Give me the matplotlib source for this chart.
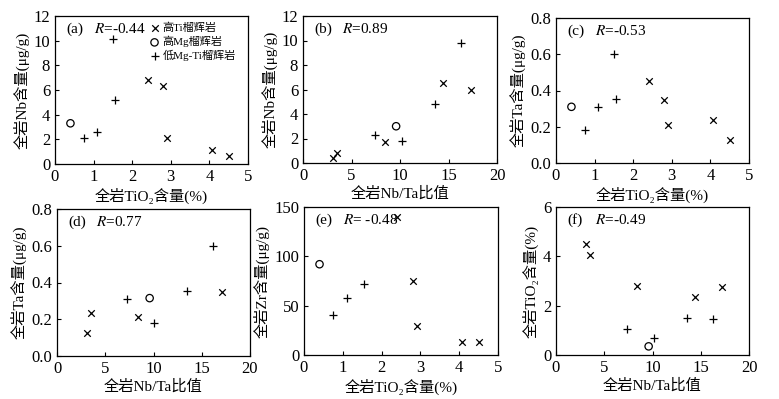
import numpy as np
import matplotlib
matplotlib.use("Agg")
import matplotlib.pyplot as plt

plt.rcParams['font.family'] = ['Liberation Serif', 'Noto Sans CJK SC', 'DejaVu Sans']
plt.rcParams['mathtext.fontset'] = 'stix'

# (a) Nb vs TiO2
a_hiti_x = [2.4, 2.8, 2.9, 4.07, 4.5]
a_hiti_y = [6.8, 6.3, 2.1, 1.1, 0.65]
a_himg_x = [0.4]
a_himg_y = [3.3]
a_lo_x = [0.75, 1.1, 1.5, 1.55]
a_lo_y = [2.1, 2.6, 10.1, 5.2]

# (b) Nb vs Nb/Ta
b_hiti_x = [3.1, 3.5, 8.5, 14.4, 17.3]
b_hiti_y = [0.4, 0.8, 1.7, 6.5, 6.0]
b_himg_x = [9.6]
b_himg_y = [3.0]
b_lo_x = [7.4, 10.2, 13.6, 16.3]
b_lo_y = [2.3, 1.8, 4.8, 9.8]

# (c) Ta vs TiO2
c_hiti_x = [2.4, 2.8, 2.9, 4.07, 4.5]
c_hiti_y = [0.455, 0.35, 0.21, 0.24, 0.125]
c_himg_x = [0.4]
c_himg_y = [0.31]
c_lo_x = [0.75, 1.1, 1.5, 1.55]
c_lo_y = [0.18, 0.31, 0.6, 0.355]

# (d) Ta vs Nb/Ta
d_hiti_x = [3.1, 3.5, 8.4, 17.1]
d_hiti_y = [0.125, 0.235, 0.21, 0.35]
d_himg_x = [9.6]
d_himg_y = [0.315]
d_lo_x = [7.3, 10.1, 13.5, 16.2]
d_lo_y = [0.31, 0.18, 0.355, 0.6]

# (e) Zr vs TiO2
e_hiti_x = [2.4, 2.8, 2.9, 4.07, 4.5]
e_hiti_y = [140, 75, 29, 13, 13]
e_himg_x = [0.4]
e_himg_y = [92]
e_lo_x = [0.75, 1.1, 1.55]
e_lo_y = [41, 58, 72]

# (f) TiO2 vs Nb/Ta
f_hiti_x = [3.1, 3.5, 8.4, 14.4, 17.2]
f_hiti_y = [4.5, 4.05, 2.8, 2.35, 2.75]
f_himg_x = [9.6]
f_himg_y = [0.35]
f_lo_x = [7.4, 10.2, 13.6, 16.3]
f_lo_y = [1.05, 0.7, 1.5, 1.45]

tio2_lab = "全岩TiO₂含量(%)"
nbta_lab = "全岩Nb/Ta比值"

panels = [
    ("(a)", "-0.44", (0, 5), (0, 12), [0, 1, 2, 3, 4, 5], [0, 2, 4, 6, 8, 10, 12],
     tio2_lab, "全岩Nb含量(μg/g)", a_hiti_x, a_hiti_y, a_himg_x, a_himg_y, a_lo_x, a_lo_y),
    ("(b)", "0.89", (0, 20), (0, 12), [0, 5, 10, 15, 20], [0, 2, 4, 6, 8, 10, 12],
     nbta_lab, "全岩Nb含量(μg/g)", b_hiti_x, b_hiti_y, b_himg_x, b_himg_y, b_lo_x, b_lo_y),
    ("(c)", "-0.53", (0, 5), (0, 0.8), [0, 1, 2, 3, 4, 5], [0, 0.2, 0.4, 0.6, 0.8],
     tio2_lab, "全岩Ta含量(μg/g)", c_hiti_x, c_hiti_y, c_himg_x, c_himg_y, c_lo_x, c_lo_y),
    ("(d)", "0.77", (0, 20), (0, 0.8), [0, 5, 10, 15, 20], [0, 0.2, 0.4, 0.6, 0.8],
     nbta_lab, "全岩Ta含量(μg/g)", d_hiti_x, d_hiti_y, d_himg_x, d_himg_y, d_lo_x, d_lo_y),
    ("(e)", " -0.48", (0, 5), (0, 150), [0, 1, 2, 3, 4, 5], [0, 50, 100, 150],
     tio2_lab, "全岩Zr含量(μg/g)", e_hiti_x, e_hiti_y, e_himg_x, e_himg_y, e_lo_x, e_lo_y),
    ("(f)", "-0.49", (0, 20), (0, 6), [0, 5, 10, 15, 20], [0, 2, 4, 6],
     nbta_lab, "全岩TiO₂含量(%)", f_hiti_x, f_hiti_y, f_himg_x, f_himg_y, f_lo_x, f_lo_y),
]

# axes boxes in pixels: left, top, right, bottom
boxes = [(55, 16, 248, 164), (303, 16, 497, 163), (556, 18, 749, 163),
         (57, 209, 250, 356), (304, 207, 498, 355), (556, 207, 749, 355)]

W, H = 779, 399
fig = plt.figure(figsize=(W / 100, H / 100), dpi=100)

for p, box in zip(panels, boxes):
    (tag, r, xlim, ylim, xt, yt, xl, yl, hx, hy, mx, my, lx, ly) = p
    l, t, rr, b = box
    ax = fig.add_axes([l / W, 1 - b / H, (rr - l) / W, (b - t) / H])
    ax.scatter(hx, hy, marker='x', s=22, c='k', linewidths=0.9, label="高Ti榴辉岩")
    ax.scatter(mx, my, marker='o', s=28, facecolors='none', edgecolors='k',
               linewidths=0.9, label="高Mg榴辉岩")
    ax.scatter(lx, ly, marker='+', s=30, c='k', linewidths=0.9, label="低Mg-Ti榴辉岩")
    ax.set_xlim(*xlim)
    ax.set_ylim(*ylim)
    ax.set_xticks(xt)
    ax.set_yticks(yt)
    if ylim[1] < 1:
        ax.set_yticklabels(["%.1f" % v for v in yt])
    ax.tick_params(direction='in', labelsize=12, length=3, width=0.8)
    for s in ax.spines.values():
        s.set_linewidth(0.9)
    ax.set_xlabel(xl, fontsize=11, labelpad=2)
    ax.set_ylabel(yl, fontsize=11, labelpad=3)
    ax.text(0.06, 0.91, tag, transform=ax.transAxes, fontsize=11, va='center')
    ax.text(0.2, 0.91, r"$R$=" + r, transform=ax.transAxes, fontsize=11, va='center')
    if tag == "(a)":
        ax.legend(loc='upper right', frameon=False, fontsize=8, handletextpad=0.2,
                  borderaxespad=0.2, labelspacing=0.25, handlelength=1.0,
                  bbox_to_anchor=(0.97, 1.0))

fig.savefig("out.png", dpi=100)
